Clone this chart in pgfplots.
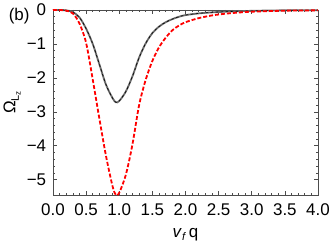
\documentclass[border=0pt]{standalone}
\usepackage{fontspec}
\setmainfont{Liberation Sans}
\usepackage{pgfplots}
\pgfplotsset{compat=1.18}
\begin{document}
\fontsize{17}{20}\selectfont
\begin{tikzpicture}
\begin{axis}[
  name=ax,
  scale only axis,
  width=265bp, height=185bp,
  xmin=0, xmax=4, ymin=-5.45, ymax=0,
  axis line style={black!70, line width=0.8bp},
  tick style={black!70, line width=0.6bp},
  tick align=inside,
  major tick length=4bp,
  minor tick length=2.2bp,
  xtick={0,0.5,...,4},
  xticklabels={0.0,0.5,1.0,1.5,2.0,2.5,3.0,3.5,4.0},
  minor x tick num=4,
  ytick={-5,-4,-3,-2,-1,0},
  yticklabels={−5,−4,−3,−2,−1,0},
  minor y tick num=4,
  tick label style={font=\fontsize{17}{20}\selectfont},
  yticklabel style={xshift=-1bp},
  xticklabel style={yshift=-3bp},
  xlabel={\fontsize{17}{20}\selectfont\textit{v}\raisebox{-0.35ex}{\fontsize{11}{13}\selectfont\textit{f}}\,q},
  xlabel style={yshift=-1bp},
  clip=false,
]
\addplot[gray!85!black, line width=1.8bp, smooth] coordinates {
(0,0) (0.1,0) (0.2,-0.01) (0.3,-0.06) (0.4,-0.22) (0.5,-0.55) (0.6,-1.0)
(0.7,-1.6) (0.8,-2.2) (0.9,-2.6) (0.95,-2.72) (1.0,-2.68) (1.1,-2.4)
(1.2,-1.95) (1.3,-1.4) (1.4,-0.98) (1.5,-0.68) (1.6,-0.49) (1.7,-0.36)
(1.8,-0.27) (1.9,-0.2) (2.0,-0.15) (2.2,-0.10) (2.4,-0.07) (2.6,-0.05)
(3.0,-0.025) (3.5,-0.01) (4.0,-0.005)};
\addplot[black, line width=0.6bp, dash pattern=on 2.5bp off 2.5bp, smooth] coordinates {
(0,0) (0.1,0) (0.2,-0.01) (0.3,-0.06) (0.4,-0.22) (0.5,-0.55) (0.6,-1.0)
(0.7,-1.6) (0.8,-2.2) (0.9,-2.6) (0.95,-2.72) (1.0,-2.68) (1.1,-2.4)
(1.2,-1.95) (1.3,-1.4) (1.4,-0.98) (1.5,-0.68) (1.6,-0.49) (1.7,-0.36)
(1.8,-0.27) (1.9,-0.2) (2.0,-0.15) (2.2,-0.10) (2.4,-0.07) (2.6,-0.05)
(3.0,-0.025) (3.5,-0.01) (4.0,-0.005)};
\addplot[red, line width=1.8bp, dash pattern=on 4bp off 2bp, smooth] coordinates {
(0,0) (0.1,0) (0.2,-0.02) (0.3,-0.1) (0.4,-0.4) (0.5,-0.97) (0.6,-2.05)
(0.7,-3.2) (0.8,-4.3) (0.9,-5.2) (0.95,-5.45) (1.0,-5.38) (1.1,-4.85)
(1.2,-3.95) (1.3,-2.8) (1.4,-2.05) (1.5,-1.5) (1.6,-1.1) (1.7,-0.82)
(1.8,-0.6) (1.9,-0.46) (2.0,-0.36) (2.2,-0.24) (2.4,-0.16) (2.6,-0.11)
(2.8,-0.075) (3.0,-0.05) (3.5,-0.02) (4.0,-0.01)};
\end{axis}
\node[anchor=west, font=\fontsize{17}{20}\selectfont] at ([xshift=-50bp,yshift=-6bp]ax.north west) {(b)};
\node[rotate=90, anchor=center, inner sep=0pt] at ([xshift=-41bp]ax.west)
  {\fontsize{17}{20}\selectfont Ω\raisebox{-0.4ex}{\fontsize{11}{13}\selectfont L\raisebox{-0.3ex}{\fontsize{8}{9}\selectfont z}}};
\pgfresetboundingbox
\path ([xshift=-53bp,yshift=-51bp]ax.south west) rectangle ([xshift=14bp,yshift=10bp]ax.north east);
\end{tikzpicture}
\end{document}
